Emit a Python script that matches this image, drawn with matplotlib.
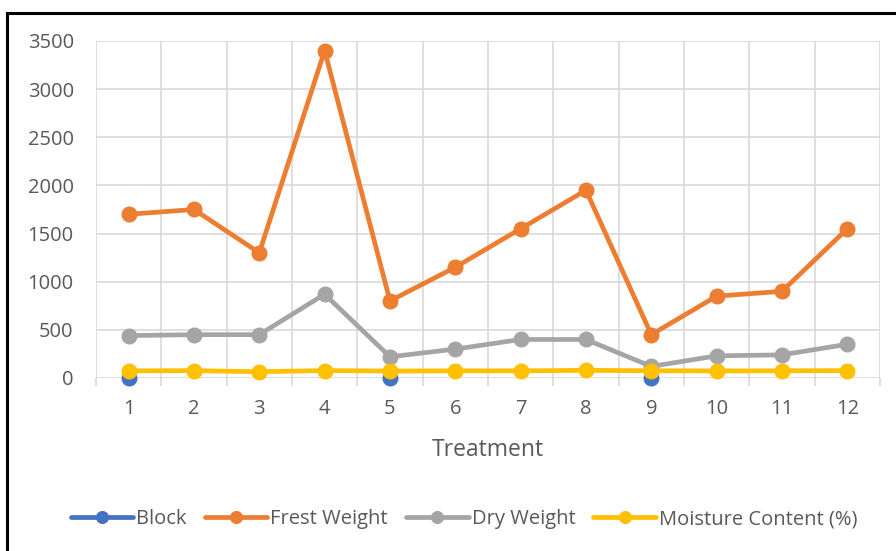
import numpy as np
import matplotlib.pyplot as plt
from matplotlib.lines import Line2D

# treatment data
treatment = np.arange(1, 13)
block = [1, np.nan, np.nan, np.nan, 2, np.nan, np.nan, np.nan, 3, np.nan, np.nan, np.nan]
frest_weight = [1700, 1750, 1300, 3400, 800, 1150, 1550, 1950, 450, 850, 900, 1550]
dry_weight = [440, 450, 450, 870, 220, 300, 400, 400, 120, 230, 240, 350]
moisture = [74, 76, 65, 77, 72, 74, 74, 80, 75, 73, 74, 77]

plt.rcParams['font.family'] = ['Open Sans', 'DejaVu Sans']
txt = '#595959'
grid_c = '#d9d9d9'

fig = plt.figure(figsize=(8.96, 5.51), dpi=100)
ax = fig.add_axes([0.1071, 0.314, 0.875, 0.6116])

series = [
    (block, '#4472c4', 'Block'),
    (frest_weight, '#ed7d31', 'Frest Weight'),
    (dry_weight, '#a5a5a5', 'Dry Weight'),
    (moisture, '#ffc000', 'Moisture Content (%)'),
]
for i, (vals, col, name) in enumerate(series):
    ax.plot(treatment, vals, color=col, lw=3.4, marker='o', ms=10.5,
            label=name, clip_on=False, zorder=3 + i, solid_capstyle='round')

ax.set_xlim(0.5, 12.5)
ax.set_ylim(0, 3500)
ax.set_yticks(np.arange(0, 3501, 500))
ax.set_xticks(treatment)
ax.set_xticks(np.arange(0.5, 12.6, 1), minor=True)

ax.grid(True, axis='y', color=grid_c, lw=1.2)
ax.grid(True, axis='x', which='minor', color=grid_c, lw=1.2)
ax.set_axisbelow(True)
for s in ax.spines.values():
    s.set_visible(False)

ax.tick_params(axis='y', length=0, pad=16, labelsize=14.5, labelcolor=txt)
ax.tick_params(axis='x', which='major', length=0, pad=15, labelsize=14.5, labelcolor=txt)
ax.tick_params(axis='x', which='minor', length=6, width=1.2, color=grid_c)

ax.set_xlabel('Treatment', fontsize=16.5, color=txt, labelpad=14)

leg = fig.legend(loc='center', bbox_to_anchor=(0.518, 0.058), ncol=4,
                 frameon=False, fontsize=14.5, handlelength=3.1,
                 handletextpad=0.15, columnspacing=0.9, markerscale=0.8)
for t in leg.get_texts():
    t.set_color(txt)

# outer frame
fig.add_artist(Line2D([7 / 896, 1.0], [1 - 13 / 551, 1 - 13 / 551],
                      color='black', lw=2.2, transform=fig.transFigure))
fig.add_artist(Line2D([7 / 896, 7 / 896], [0, 1 - 13 / 551],
                      color='black', lw=2.2, transform=fig.transFigure))

fig.savefig('out.png', dpi=100)
